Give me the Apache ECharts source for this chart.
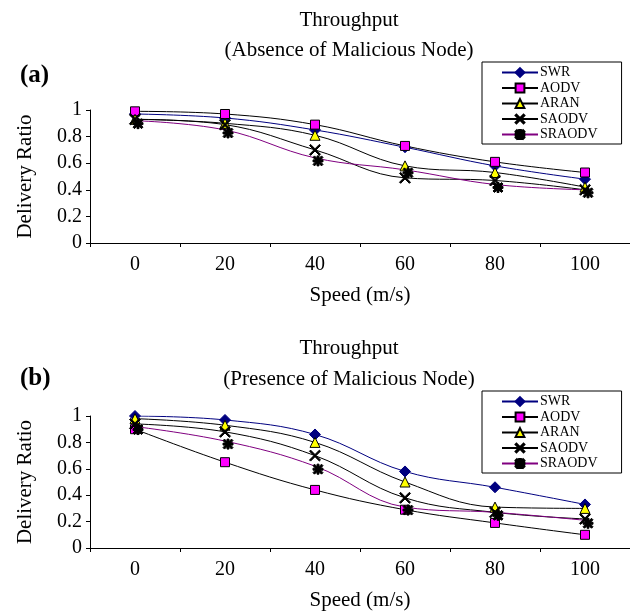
<!DOCTYPE html>
<html>
<head>
<meta charset="utf-8">
<script src="https://cdn.jsdelivr.net/npm/echarts@6/dist/echarts.min.js"></script>
<style>
  html, body { margin: 0; padding: 0; background: #fff; }
  #chart { width: 630px; height: 612px; }
</style>
</head>
<body>
<div id="chart"></div>
<script>
// Speeds on the x axis (m/s)
const speeds = ['0', '20', '40', '60', '80', '100'];
const protocols = ['SWR', 'AODV', 'ARAN', 'SAODV', 'SRAODV'];
const yTicks = [0, 0.2, 0.4, 0.6, 0.8, 1];

// (a) Delivery ratio without a malicious node
const absenceSWR    = [0.97, 0.94, 0.85, 0.72, 0.58, 0.48];
const absenceAODV   = [0.99, 0.97, 0.89, 0.73, 0.61, 0.53];
const absenceARAN   = [0.93, 0.90, 0.81, 0.58, 0.53, 0.42];
const absenceSAODV  = [0.93, 0.89, 0.70, 0.49, 0.47, 0.40];
const absenceSRAODV = [0.92, 0.85, 0.64, 0.55, 0.44, 0.40];

// (b) Delivery ratio with a malicious node present
const presenceSWR    = [1.00, 0.97, 0.86, 0.58, 0.46, 0.33];
const presenceAODV   = [0.90, 0.65, 0.44, 0.29, 0.19, 0.10];
const presenceARAN   = [0.98, 0.93, 0.80, 0.50, 0.31, 0.30];
const presenceSAODV  = [0.94, 0.88, 0.70, 0.38, 0.27, 0.22];
const presenceSRAODV = [0.92, 0.81, 0.62, 0.31, 0.27, 0.21];

const FONT = 'Liberation Serif';

// Marker shapes
const crossPath = 'path://M0,1 L1,0 L5,4 L9,0 L10,1 L6,5 L10,9 L9,10 L5,6 L1,10 L0,9 L4,5 Z';
const starPath = 'path://M0,1.5 L1.5,0 L5,3.5 L8.5,0 L10,1.5 L6.5,5 L10,8.5 L8.5,10 L5,6.5 L1.5,10 L0,8.5 L3.5,5 Z M4,0 L6,0 L6,10 L4,10 Z M0,4 L10,4 L10,6 L0,6 Z';

const styles = {
  SWR:    { line: '#000080', symbol: 'diamond', size: 11, fill: '#000080', border: '#000080' },
  AODV:   { line: '#000000', symbol: 'rect', size: 9, fill: '#ff00ff', border: '#000000' },
  ARAN:   { line: '#000000', symbol: 'triangle', size: 10, fill: '#ffff00', border: '#000000' },
  SAODV:  { line: '#000000', symbol: crossPath, size: 11, fill: '#000000', border: '#000000' },
  SRAODV: { line: '#800080', symbol: starPath, size: 10, fill: '#000000', border: '#000000', offset: [3, 3] }
};

function makeSeries(name, data, idx) {
  const s = styles[name];
  return {
    name: name,
    type: 'line',
    xAxisIndex: idx,
    yAxisIndex: idx,
    data: data,
    smooth: 0.4,
    symbol: s.symbol,
    symbolSize: s.size,
    symbolOffset: s.offset || [0, 0],
    showAllSymbol: true,
    lineStyle: { color: s.line, width: 1 },
    itemStyle: { color: s.fill, borderColor: s.border, borderWidth: 1, opacity: 1 },
    emphasis: { disabled: true },
    animation: false
  };
}

function xAxisFor(idx) {
  return {
    type: 'category',
    gridIndex: idx,
    data: speeds,
    boundaryGap: true,
    name: 'Speed (m/s)',
    nameLocation: 'middle',
    nameGap: 42,
    nameTextStyle: { fontFamily: FONT, fontSize: 21, color: '#000' },
    axisLine: { lineStyle: { color: '#000', width: 1 } },
    axisTick: { show: true, length: 4, lineStyle: { color: '#000' } },
    axisLabel: { fontFamily: FONT, fontSize: 20, color: '#000', margin: 12 },
    splitLine: { show: false }
  };
}

function yAxisFor(idx) {
  return {
    type: 'value',
    gridIndex: idx,
    min: yTicks[0],
    max: yTicks[yTicks.length - 1],
    interval: 0.2,
    name: 'Delivery Ratio',
    nameLocation: 'middle',
    nameGap: 54,
    nameTextStyle: { fontFamily: FONT, fontSize: 21, color: '#000' },
    axisLine: { show: true, lineStyle: { color: '#000', width: 1 } },
    axisTick: { show: true, length: 4, lineStyle: { color: '#000' } },
    axisLabel: { fontFamily: FONT, fontSize: 20, color: '#000', margin: 8,
      formatter: v => String(Math.round(v * 10) / 10) },
    splitLine: { show: false }
  };
}

function legendFor(top) {
  return {
    data: protocols,
    orient: 'vertical',
    left: 482,
    top: top,
    padding: [3, 24, 2, 19],
    itemWidth: 36,
    itemHeight: 11,
    itemGap: 0.5,
    selectedMode: false,
    borderColor: '#000',
    borderWidth: 1,
    backgroundColor: '#fff',
    textStyle: { fontFamily: FONT, fontSize: 14, color: '#000', lineHeight: 15, padding: [0, 0, 0, -3] }
  };
}

function label(text, x, y, size, bold, align) {
  return {
    type: 'text',
    x: x,
    y: y,
    style: {
      text: text,
      fontFamily: FONT,
      fontSize: size,
      fontWeight: bold ? 'bold' : 'normal',
      fill: '#000',
      textAlign: align || 'center',
      textVerticalAlign: 'middle'
    }
  };
}

const chart = echarts.init(document.getElementById('chart'), null, { renderer: 'canvas' });

chart.setOption({
  backgroundColor: '#fff',
  animation: false,
  grid: [
    { left: 90, top: 110, width: 544, height: 133 },
    { left: 90, top: 416, width: 544, height: 133 }
  ],
  xAxis: [xAxisFor(0), xAxisFor(1)],
  yAxis: [yAxisFor(0), yAxisFor(1)],
  legend: [legendFor(62), legendFor(391)],
  graphic: [
    label('Throughput', 349, 20, 21, false),
    label('(Absence of Malicious Node)', 349, 50, 21, false),
    label('(a)', 20, 76, 25, true, 'left'),
    label('Throughput', 349, 348, 21, false),
    label('(Presence of Malicious Node)', 349, 379, 21, false),
    label('(b)', 20, 379, 25, true, 'left')
  ],
  series: [
    makeSeries('SWR', absenceSWR, 0),
    makeSeries('AODV', absenceAODV, 0),
    makeSeries('ARAN', absenceARAN, 0),
    makeSeries('SAODV', absenceSAODV, 0),
    makeSeries('SRAODV', absenceSRAODV, 0),
    makeSeries('SWR', presenceSWR, 1),
    makeSeries('AODV', presenceAODV, 1),
    makeSeries('ARAN', presenceARAN, 1),
    makeSeries('SAODV', presenceSAODV, 1),
    makeSeries('SRAODV', presenceSRAODV, 1)
  ]
});
</script>
</body>
</html>
